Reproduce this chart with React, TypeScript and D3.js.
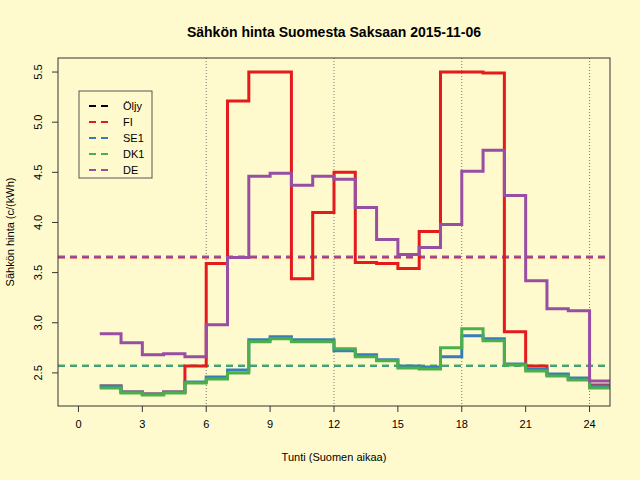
import * as d3 from "d3"

const hours = d3.range(1, 25)
const fi = [2.37, 2.31, 2.29, 2.31, 2.57, 3.59, 5.21, 5.5, 5.5, 3.44, 4.1, 4.5, 3.6, 3.59, 3.54, 3.91, 5.5, 5.5, 5.49, 2.91, 2.57, 2.48, 2.44, 2.38]
const de = [2.89, 2.8, 2.68, 2.69, 2.66, 2.98, 3.65, 4.46, 4.49, 4.37, 4.46, 4.43, 4.15, 3.83, 3.68, 3.75, 3.98, 4.51, 4.72, 4.27, 3.42, 3.14, 3.12, 2.42]
const se1 = [2.37, 2.31, 2.29, 2.31, 2.41, 2.46, 2.53, 2.83, 2.86, 2.83, 2.83, 2.72, 2.68, 2.63, 2.57, 2.56, 2.66, 2.87, 2.84, 2.59, 2.54, 2.49, 2.45, 2.37]
const dk1 = [2.35, 2.3, 2.28, 2.3, 2.4, 2.44, 2.5, 2.81, 2.84, 2.81, 2.81, 2.74, 2.66, 2.62, 2.55, 2.54, 2.75, 2.94, 2.82, 2.58, 2.52, 2.47, 2.43, 2.35]
const oil = 3.655
const avgs = [3.65, 3.66, 2.57, 2.575]
const legendNames = ["Öljy", "FI", "SE1", "DK1", "DE"]
const colors = ["#000000", "#E41A1C", "#377EB8", "#4DAF4A", "#984EA3"]
const xTicks = [0, 3, 6, 9, 12, 15, 18, 21, 24]
const yTicks = [2.5, 3, 3.5, 4, 4.5, 5, 5.5]
const grid = [6, 12, 18, 24]

export default function App() {
  const L = 58, R = 610, T = 58, B = 406
  const x = d3.scaleLinear().domain([-0.96, 24.96]).range([L, R])
  const y = d3.scaleLinear().domain([2.17, 5.64]).range([B, T])
  const step = (vals: number[]) =>
    d3.line<number>().x((_, i) => x(i < vals.length ? hours[i] : 25)).y((_, i) => y(vals[Math.min(i, vals.length - 1)])).curve(d3.curveStepAfter)([...vals, vals[vals.length - 1]]) || ""
  const font = "'Liberation Sans', Arial, sans-serif"
  const series = [
    { v: fi, c: colors[1] },
    { v: se1, c: colors[2] },
    { v: dk1, c: colors[3] },
    { v: de, c: colors[4] },
  ]
  const hl = (v: number, c: string, k: number) => (
    <line key={"h" + k} x1={L} x2={R} y1={y(v)} y2={y(v)} stroke={c} strokeWidth={2} strokeDasharray="7,5" />
  )
  return (
    <svg width={640} height={480} style={{ position: "absolute", left: 0, top: 0 }} fontFamily={font}>
      <rect width={640} height={480} fill="#FFFACD" />
      <defs>
        <clipPath id="pc"><rect x={L} y={T} width={R - L} height={B - T} /></clipPath>
      </defs>
      <text x={334} y={37} textAnchor="middle" fontSize={14} fontWeight="bold">Sähkön hinta Suomesta Saksaan 2015-11-06</text>
      {grid.map((g) => (
        <line key={g} x1={x(g)} x2={x(g)} y1={T} y2={B} stroke="#555" strokeWidth={0.8} strokeDasharray="1,2" />
      ))}
      <g clipPath="url(#pc)">
        {hl(oil, colors[0], 0)}
        {hl(avgs[0], colors[1], 1)}
        {hl(avgs[2], colors[2], 2)}
        {hl(avgs[3], colors[3], 3)}
        {hl(avgs[1], colors[4], 4)}
        {series.map((s, i) => (
          <path key={i} d={step(s.v)} fill="none" stroke={s.c} strokeWidth={3} />
        ))}
      </g>
      <rect x={L} y={T} width={R - L} height={B - T} fill="none" stroke="#333" />
      {xTicks.map((t) => (
        <g key={t}>
          <line x1={x(t)} x2={x(t)} y1={B} y2={B + 6} stroke="#333" />
          <text x={x(t)} y={B + 22} textAnchor="middle" fontSize={11}>{t}</text>
        </g>
      ))}
      {yTicks.map((t) => (
        <g key={t}>
          <line x1={L - 6} x2={L} y1={y(t)} y2={y(t)} stroke="#333" />
          <text transform={`translate(${L - 16},${y(t)}) rotate(-90)`} textAnchor="middle" fontSize={11}>{t.toFixed(1)}</text>
        </g>
      ))}
      <text x={334} y={461} textAnchor="middle" fontSize={11}>Tunti (Suomen aikaa)</text>
      <text transform={`translate(14,232) rotate(-90)`} textAnchor="middle" fontSize={11}>Sähkön hinta (c/(kWh)</text>
      <rect x={79} y={91} width={73} height={87} fill="#FFFACD" stroke="#555" />
      {legendNames.map((n, i) => (
        <g key={n}>
          <line x1={89} x2={110} y1={106 + i * 16} y2={106 + i * 16} stroke={colors[i]} strokeWidth={2} strokeDasharray="7,5" />
          <text x={123} y={110 + i * 16} fontSize={11}>{n}</text>
        </g>
      ))}
    </svg>
  )
}
